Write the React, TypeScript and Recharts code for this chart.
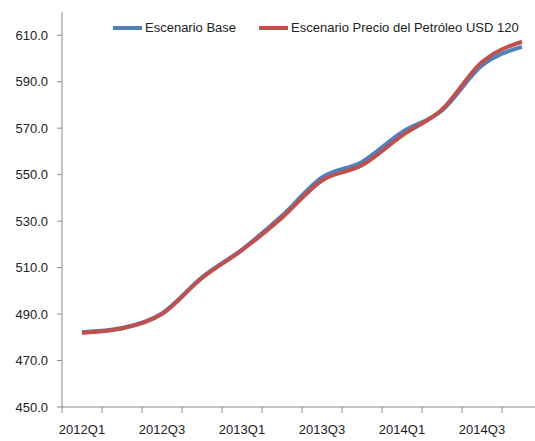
import { LineChart, Line, XAxis, YAxis } from "recharts";

const quarters = [
  "2012Q1", "2012Q2", "2012Q3", "2012Q4",
  "2013Q1", "2013Q2", "2013Q3", "2013Q4",
  "2014Q1", "2014Q2", "2014Q3", "2014Q4",
];
const baseScenario = [482.2, 484.0, 490.3, 505.8, 517.8, 532.3, 548.8, 555.5, 568.3, 577.6, 597.0, 605.0];
const oilScenario = [482.0, 483.8, 490.0, 505.5, 517.5, 531.5, 547.5, 554.0, 566.8, 578.0, 598.5, 607.2];
const yTicks = [450, 470, 490, 510, 530, 550, 570, 590, 610];

const series = [
  { key: "base", name: "Escenario Base", color: "#4F81BD" },
  { key: "oil", name: "Escenario Precio del Petróleo USD 120", color: "#C0504D" },
];

const data = quarters.map((q, i) => ({
  idx: i,
  q,
  base: baseScenario[i],
  oil: oilScenario[i],
}));

// tick marks sit between the categories, labels on every other category
const boundaryTicks = quarters.map((_, i) => i - 0.5).concat(quarters.length - 0.5);
const labelTicks = quarters.map((_, i) => i).filter((i) => i % 2 === 0);

const font = "'Liberation Sans', Arial, sans-serif";
const axisColor = "#888";

export default function App() {
  return (
    <div
      style={{
        position: "fixed",
        top: 0,
        left: 0,
        width: 535,
        height: 441,
        overflow: "hidden",
        background: "#fff",
        fontFamily: font,
      }}
    >
      <LineChart
        width={560}
        height={441}
        data={data}
        margin={{ top: 12, right: 18, bottom: 0, left: 0 }}
      >
        <XAxis
          xAxisId="grid"
          dataKey="idx"
          type="number"
          domain={[-0.5, quarters.length - 0.5]}
          ticks={boundaryTicks}
          tickFormatter={() => ""}
          height={1}
          tickSize={6}
          axisLine={{ stroke: axisColor }}
          tickLine={{ stroke: axisColor }}
          tick={{ fontSize: 0 }}
        />
        <XAxis
          xAxisId="labels"
          dataKey="idx"
          type="number"
          domain={[-0.5, quarters.length - 0.5]}
          ticks={labelTicks}
          tickFormatter={(v: number) => quarters[v] ?? ""}
          height={33}
          axisLine={false}
          tickLine={false}
          tickSize={6}
          tickMargin={11}
          tick={{ fill: "#222", fontSize: 13, fontFamily: font }}
        />
        <YAxis
          domain={[450, 620]}
          ticks={yTicks}
          allowDataOverflow
          width={62}
          tickSize={5}
          tickMargin={9}
          tickFormatter={(v: number) => v.toFixed(1)}
          axisLine={{ stroke: axisColor }}
          tickLine={{ stroke: axisColor }}
          tick={{ fill: "#222", fontSize: 13, fontFamily: font }}
        />
        {series.map((s) => (
          <Line
            key={s.key}
            xAxisId="grid"
            type="monotone"
            dataKey={s.key}
            name={s.name}
            stroke={s.color}
            strokeWidth={4}
            dot={false}
            isAnimationActive={false}
          />
        ))}
      </LineChart>
      <div
        style={{
          position: "absolute",
          top: 20,
          left: 113,
          display: "flex",
          alignItems: "center",
          fontSize: 13,
          lineHeight: "16px",
          color: "#222",
          whiteSpace: "nowrap",
        }}
      >
        {series.map((s, i) => (
          <div
            key={s.key}
            style={{ display: "flex", alignItems: "center", marginLeft: i === 0 ? 0 : 23 }}
          >
            <svg width={29} height={6} style={{ marginRight: 3 }}>
              <line x1={0} y1={3} x2={29} y2={3} stroke={s.color} strokeWidth={4} />
            </svg>
            <span>{s.name}</span>
          </div>
        ))}
      </div>
    </div>
  );
}
